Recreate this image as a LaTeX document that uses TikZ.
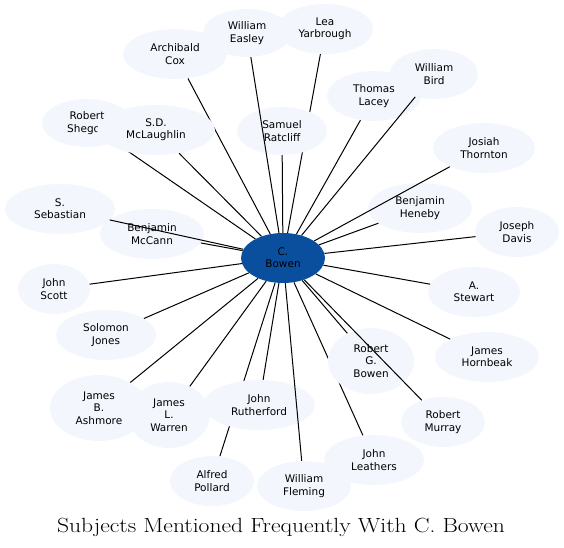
\documentclass[tikz,border=0pt]{standalone}
\usepackage{fontspec}
\newfontfamily\nodefont{DejaVu Sans}
\usetikzlibrary{shapes.geometric}
\pgfdeclarelayer{bg}
\pgfsetlayers{bg,main}
\definecolor{nodefill}{HTML}{F3F7FD}
\definecolor{hubfill}{HTML}{0A4F9D}
\tikzset{
  person/.style={ellipse, fill=nodefill, inner sep=0pt, align=center,
    font=\nodefont\fontsize{10.5}{12.3}\selectfont, text=black},
  hub/.style={person, fill=hubfill},
  link/.style={draw=black, line width=1pt},
  titletext/.style={font=\fontsize{20.5}{24}\selectfont, inner sep=0pt, xscale=1.15, transform shape}
}
\begin{document}
\begin{tikzpicture}[x=1pt,y=-1pt]
\useasboundingbox (0,0) rectangle (564,547);
% nodes
\node[person, minimum width=90, minimum height=48] (shegog) at (87,123) {Robert\\Shegog};
\node[person, minimum width=118, minimum height=50] (mclaughlin) at (156,130) {S.D.\\McLaughlin};
\node[person, minimum width=104, minimum height=50] (cox) at (175,54) {Archibald\\Cox};
\node[person, minimum width=88, minimum height=48] (easley) at (247,33) {William\\Easley};
\node[person, minimum width=96, minimum height=50] (lea) at (325,29) {Lea\\Yarbrough};
\node[person, minimum width=90, minimum height=48] (ratcliff) at (282,131) {Samuel\\Ratcliff};
\node[person, minimum width=94, minimum height=50] (lacey) at (374,96) {Thomas\\Lacey};
\node[person, minimum width=88, minimum height=50] (bird) at (434,74) {William\\Bird};
\node[person, minimum width=102, minimum height=50] (thornton) at (484,148) {Josiah\\Thornton};
\node[person, minimum width=104, minimum height=50] (heneby) at (420,208) {Benjamin\\Heneby};
\node[person, minimum width=84, minimum height=50] (davis) at (517,232) {Joseph\\Davis};
\node[person, minimum width=92, minimum height=50] (stewart) at (474,292) {A.\\Stewart};
\node[person, minimum width=104, minimum height=50] (hornbeak) at (487,357) {James\\Hornbeak};
\node[person, minimum width=86, minimum height=66] (rgbowen) at (371,361) {Robert\\G.\\Bowen};
\node[person, minimum width=84, minimum height=50] (murray) at (443,422) {Robert\\Murray};
\node[person, minimum width=100, minimum height=50] (leathers) at (374,460) {John\\Leathers};
\node[person, minimum width=94, minimum height=50] (fleming) at (304,486) {William\\Fleming};
\node[person, minimum width=84, minimum height=50] (pollard) at (212,481) {Alfred\\Pollard};
\node[person, minimum width=112, minimum height=50] (rutherford) at (259,405) {John\\Rutherford};
\node[person, minimum width=98, minimum height=66] (ashmore) at (99,408) {James\\B.\\Ashmore};
\node[person, minimum width=82, minimum height=66] (warren) at (169,415) {James\\L.\\Warren};
\node[person, minimum width=100, minimum height=50] (jones) at (106,335) {Solomon\\Jones};
\node[person, minimum width=72, minimum height=50] (scott) at (54,289) {John\\Scott};
\node[person, minimum width=110, minimum height=50] (sebastian) at (60,209) {S.\\Sebastian};
\node[person, minimum width=104, minimum height=50] (mccann) at (152,234) {Benjamin\\McCann};
\node[hub, minimum width=84, minimum height=50] (hub) at (283,258) {C.\\Bowen};
% edges hidden under other nodes
\begin{pgfonlayer}{bg}
\draw[link] (hub) -- (cox);
\draw[link] (hub) -- (shegog);
\draw[link] (hub) -- (lea);
\draw[link] (hub) -- (pollard);
\draw[link] (hub) -- (leathers);
\end{pgfonlayer}
% edges on top
\draw[link] (hub) -- (easley);
\draw[link] (hub) -- (mclaughlin);
\draw[link] (hub) -- (ratcliff);
\draw[link] (hub) -- (lacey);
\draw[link] (hub) -- (bird);
\draw[link] (hub) -- (thornton);
\draw[link] (hub) -- (heneby);
\draw[link] (hub) -- (davis);
\draw[link] (hub) -- (stewart);
\draw[link] (hub) -- (hornbeak);
\draw[link] (hub) -- (rgbowen);
\draw[link] (hub) -- (murray);
\draw[link] (hub) -- (fleming);
\draw[link] (hub) -- (rutherford);
\draw[link] (hub) -- (warren);
\draw[link] (hub) -- (ashmore);
\draw[link] (hub) -- (jones);
\draw[link] (hub) -- (scott);
\draw[link] (hub) -- (sebastian);
\draw[link] (hub) -- (mccann);
% title
\node[titletext, anchor=base] (title) at (281,532) {Subjects Mentioned Frequently With C. Bowen};
\end{tikzpicture}
\end{document}
